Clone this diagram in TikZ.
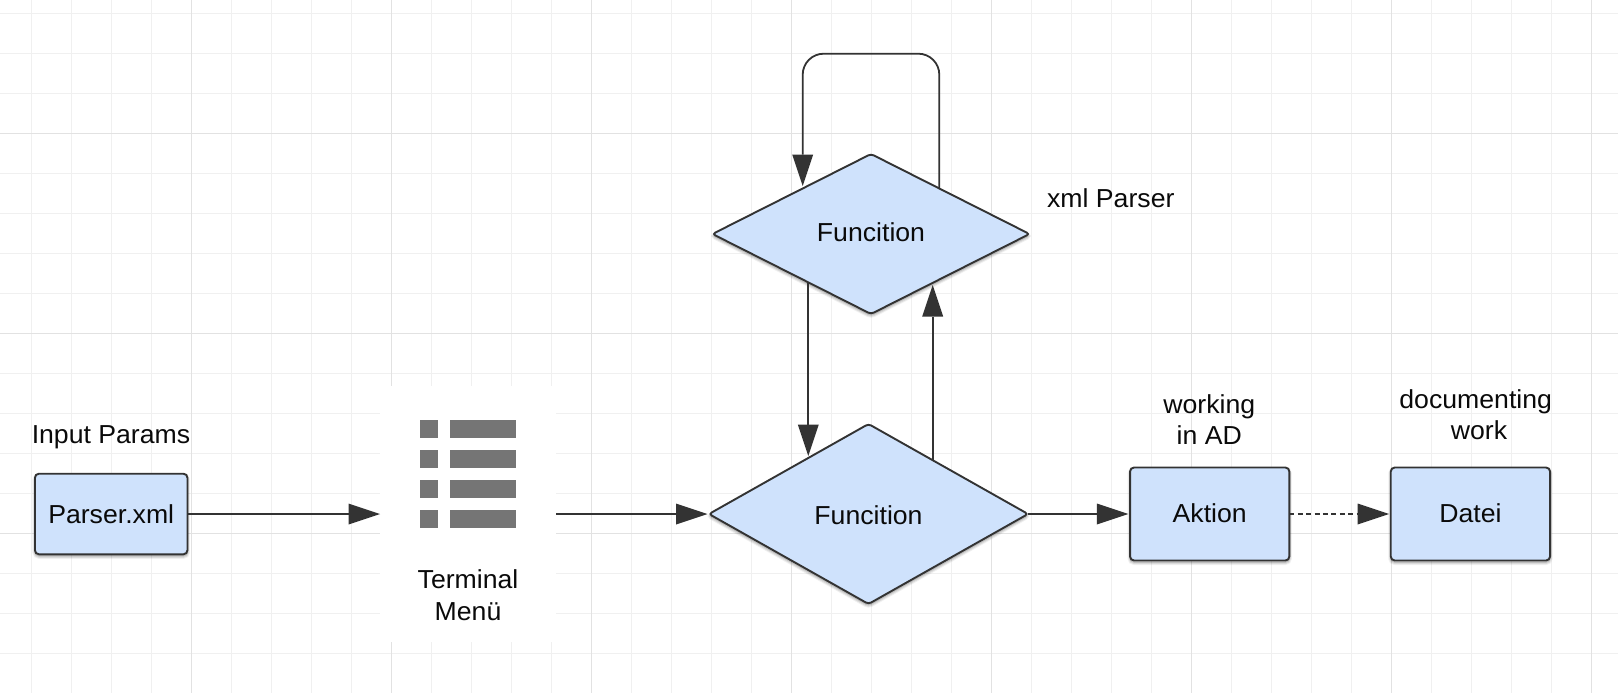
\documentclass[tikz,border=0pt]{standalone}
\usepackage{fontspec}
\setmainfont[FakeStretch=1.025]{Liberation Sans}
\usetikzlibrary{arrows.meta,shapes.geometric,calc}
\definecolor{ink}{HTML}{333333}
\definecolor{shapefill}{HTML}{CFE2FC}
\definecolor{gridminor}{HTML}{F0F0F0}
\definecolor{gridmajor}{HTML}{E2E2E2}
\definecolor{icongray}{HTML}{757575}
\definecolor{labelink}{HTML}{0A0A0A}
\tikzset{
  softshadow/.style={
    preaction={draw=black,draw opacity=.06,line width=5pt,transform canvas={yshift=-2pt}},
    preaction={draw=black,draw opacity=.09,line width=3pt,transform canvas={yshift=-2pt}},
    preaction={draw=black,draw opacity=.13,line width=1.5pt,transform canvas={yshift=-1.5pt}}
  },
  basebox/.style={softshadow,draw=ink,fill=shapefill,line width=1.9pt,outer sep=0pt,inner sep=0pt,
    font=\fontsize{26}{32}\selectfont,text=labelink},
  procbox/.style={basebox,rectangle,rounded corners=4pt,text height=18.7pt},
  decision/.style={basebox,diamond,rounded corners=3pt,text height=18.7pt},
  caption/.style={font=\fontsize{26}{31}\selectfont,text=labelink,inner sep=0pt,outer sep=0pt,align=center},
  conn/.style={draw=ink,line width=1.8pt,-{Triangle[length=31.5pt,width=21pt,line width=0pt]}},
  dashconn/.style={draw=ink,line width=1.8pt,dash pattern=on 5pt off 3.4pt,-{Triangle[length=31.5pt,width=21pt,line width=0pt]}},
  iconblock/.style={fill=icongray,draw=none}
}
\begin{document}
\begin{tikzpicture}[x=1pt,y=-1pt]
\useasboundingbox (0,0) rectangle (1618,693);
\fill[white] (0,0) rectangle (1618,693);
% grid
\foreach \gx in {31.5,71.5,...,1618} \draw[gridminor,line width=1pt] (\gx,0) -- (\gx,693);
\foreach \gy in {13.5,53.5,...,693} \draw[gridminor,line width=1pt] (0,\gy) -- (1618,\gy);
\foreach \gx in {191.5,391.5,...,1618} \draw[gridmajor,line width=1pt] (\gx,0) -- (\gx,693);
\foreach \gy in {133.5,333.5,533.5} \draw[gridmajor,line width=1pt] (0,\gy) -- (1618,\gy);
% menu icon panel
\node[fill=white,draw=none,inner sep=0pt,outer sep=0pt,minimum width=176pt,minimum height=256pt] (menu) at (468,514) {};
\foreach \ry in {429.3,459.3,489.3,519.3} {
  \fill[iconblock] (420,\ry-9) rectangle (438,\ry+9);
  \fill[iconblock] (450,\ry-9) rectangle (516,\ry+9);
}
\node[caption,anchor=base] (menulabel) at (468,588.8) {Terminal};
\node[caption,anchor=base] (menulabelb) at (468,620.5) {Menü};
% shapes
\node[procbox,minimum width=152.5pt,minimum height=80.6pt,text depth=0pt] (parser) at (111.2,514) {Parser.xml};
\node[decision,minimum width=317pt,minimum height=160pt,text depth=3.8pt] (d1) at (871,234) {Funcition};
\node[decision,minimum width=319pt,minimum height=180pt,text height=21pt,text depth=0pt] (d2) at (868.5,514) {Funcition};
\node[procbox,minimum width=159.3pt,minimum height=93pt,text depth=2.3pt] (aktion) at (1209.7,514) {Aktion};
\node[procbox,minimum width=159.3pt,minimum height=93pt,text depth=2.3pt] (datei) at (1470.4,514) {Datei};
% captions
\node[caption,anchor=base] (inputlabel) at (111,443.8) {Input Params};
\node[caption,anchor=base] (xmllabel) at (1110.8,207.7) {xml Parser};
\node[caption,anchor=base] (worklabel) at (1209.3,413.8) {working};
\node[caption,anchor=base] (worklabelb) at (1209.3,444.8) {in AD};
\node[caption,anchor=base] (doclabel) at (1475.7,408.8) {documenting};
\node[caption,anchor=base] (doclabelb) at (1479,439.8) {work};
% connectors
\draw[conn] (parser.east) -- (menu.west);
\draw[conn] (menu.east) -- ([xshift=-1.5pt]d2.west);
\draw[conn] (d2.east) -- ([xshift=-1.7pt]aktion.west);
\draw[dashconn] (aktion.east) -- ([xshift=-1.7pt]datei.west);
\draw[conn] ([xshift=-62.7pt,yshift=-48.3pt]d1.center) -- ([xshift=-60.2pt,yshift=58pt]d2.center);
\draw[conn] ([xshift=64.2pt,yshift=53.4pt]d2.center) -- ([xshift=61.7pt,yshift=-51pt]d1.center);
\coordinate (looptop) at ([yshift=100.3pt]d1.north);
\draw[conn,rounded corners=21pt] ([xshift=68.3pt,yshift=45.5pt]d1.center) |- (looptop) -| ([xshift=-68.3pt,yshift=48pt]d1.center);
\end{tikzpicture}
\end{document}
